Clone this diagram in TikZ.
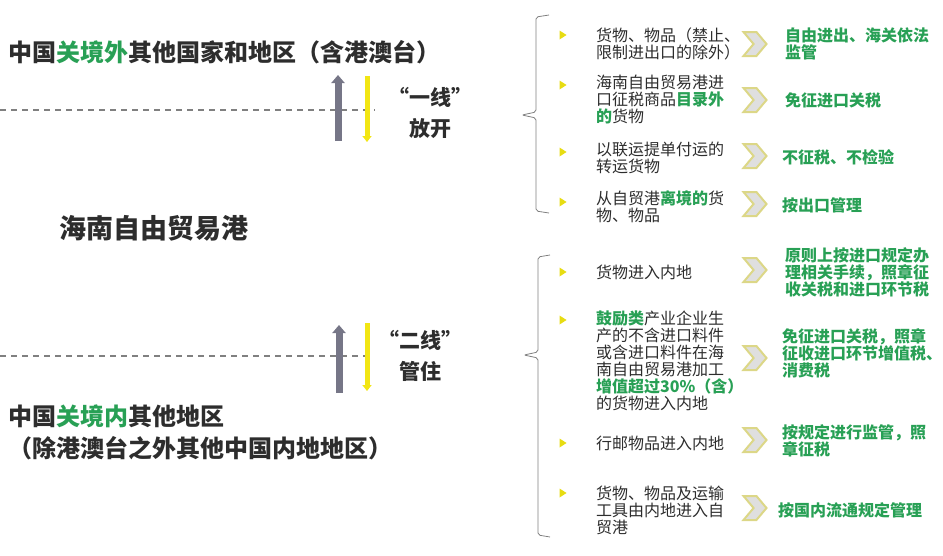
\documentclass[tikz,border=0pt]{standalone}
\usepackage{fontspec}
\setmainfont{Noto Sans CJK SC}
\usetikzlibrary{arrows.meta, shapes.geometric, shapes.symbols}
\definecolor{zgreen}{RGB}{40,160,85}
\definecolor{zgray}{RGB}{118,118,135}
\definecolor{zyellow}{RGB}{242,230,20}
\definecolor{ztext}{RGB}{45,45,45}
\colorlet{dashgray}{black!50}
\colorlet{chevedge}{yellow!55!gray!70}
\newcommand{\hl}[1]{\textcolor{zgreen}{\bfseries #1}}
\newcommand{\zrow}[8]{%
  \node[bullet] (#1b) at (562,#2) {};
  \node[lefttxt] (#1l) at (596,#3) {#7};
  \node[chev] (#1c) at (755,#4) {};
  \node[righttxt] (#1r) at (#5,#6) {#8};}

\begin{document}
\begin{tikzpicture}[x=1pt, y=-1pt,
    bullet/.style={isosceles triangle, isosceles triangle stretches, fill=zyellow!90!olive,
      minimum width=9pt, minimum height=7pt, inner sep=0pt},
    lefttxt/.style={anchor=west, align=left, inner sep=0pt, text=ztext, font=\fontsize{16}{17}\selectfont},
    righttxt/.style={anchor=west, align=left, inner sep=0pt, text=zgreen, font=\fontsize{16}{17}\selectfont\bfseries},
    chev/.style={signal, signal to=east, signal from=west, signal pointer angle=100,
      minimum width=23pt, minimum height=24pt, inner sep=0pt, fill=gray!25, draw=chevedge, line width=2pt},
    bigtxt/.style={anchor=west, inner sep=0pt, text=ztext, font=\fontsize{24}{24}\selectfont\bfseries},
    linelbl/.style={align=center, inner sep=0pt, text=ztext, font=\fontsize{21}{31}\selectfont\bfseries},
    dashline/.style={draw=dashgray, line width=1.2pt, dash pattern=on 6pt off 5pt},
    garrow/.style={draw=zgray, line width=7pt, -{Triangle[width=13pt, length=8pt]}},
    yarrow/.style={draw=zyellow, line width=5pt, -{Triangle[width=9pt, length=6pt]}},
    brace/.style={draw=gray, line width=0.8pt, rounded corners=2pt}]
  \useasboundingbox (0,0) rectangle (943,555);

  \node[bigtxt] (outside) at (8,52) {中国\textcolor{zgreen}{关境外}其他国家和地区（含港澳台）};
  \node[bigtxt, font=\fontsize{27}{27}\selectfont\bfseries] (fzp) at (59,228) {海南自由贸易港};
  \node[bigtxt] (inside) at (8,416) {中国\textcolor{zgreen}{关境内}其他地区};
  \node[bigtxt] (inside2) at (8,448) {（除港澳台之外其他中国内地地区）};

  \coordinate (d1a) at (0,110);   \coordinate (d1b) at (375,110);
  \coordinate (d2a) at (0,356);   \coordinate (d2b) at (373,356);
  \draw[dashline] (d1a) -- (d1b);
  \draw[dashline] (d2a) -- (d2b);

  \coordinate (g1a) at (338,141); \coordinate (g1b) at (338,75);
  \coordinate (y1a) at (367,76);  \coordinate (y1b) at (367,142);
  \coordinate (g2a) at (339,393); \coordinate (g2b) at (339,325);
  \coordinate (y2a) at (367,323); \coordinate (y2b) at (367,391);
  \draw[garrow] (g1a) -- (g1b);
  \draw[yarrow] (y1a) -- (y1b);
  \draw[garrow] (g2a) -- (g2b);
  \draw[yarrow] (y2a) -- (y2b);

  \node[linelbl] (line1) at (430,113) {“一线”\\放开};
  \node[linelbl] (line2) at (420,356) {“二线”\\管住};

  \draw[brace] (549,15) -- (536,17) -- (536,112) -- (522,115) -- (536,118) -- (536,211) -- (549,213);
  \draw[brace] (550,255) -- (538,257) -- (538,352) -- (524,355) -- (538,358) -- (538,535) -- (550,537);

  \zrow{ta}{35}{44}{44}{785}{44}{货物、物品（禁止、\\限制进出口的除外）}{自由进出、海关依法\\监管}
  \zrow{tb}{85}{100}{100}{785}{100}{海南自由贸易港进\\口征税商品\hl{目录外}\\\hl{的}货物}{免征进口关税}
  \zrow{tc}{152}{158}{156}{782}{157}{以联运提单付运的\\转运货物}{不征税、不检验}
  \zrow{td}{202}{207}{204}{782}{205}{从自贸港\hl{离境的}货\\物、物品}{按出口管理}

  \zrow{ba}{272}{272}{270}{785}{272}{货物进入内地}{原则上按进口规定办\\理相关手续，照章征\\收关税和进口环节税}
  \zrow{bb}{320}{361}{358}{782}{353}{\hl{鼓励类}产业企业生\\产的不含进口料件\\或含进口料件在海\\南自由贸易港加工\\\hl{增值超过30\%（含）}\\的货物进入内地}{免征进口关税，照章\\征收进口环节增值税、\\消费税}
  \zrow{bc}{443}{443}{440}{782}{441}{行邮物品进入内地}{按规定进行监管，照\\章征税}
  \zrow{bd}{493}{510}{508}{778}{510}{货物、物品及运输\\工具由内地进入自\\贸港}{按国内流通规定管理}
\end{tikzpicture}
\end{document}
